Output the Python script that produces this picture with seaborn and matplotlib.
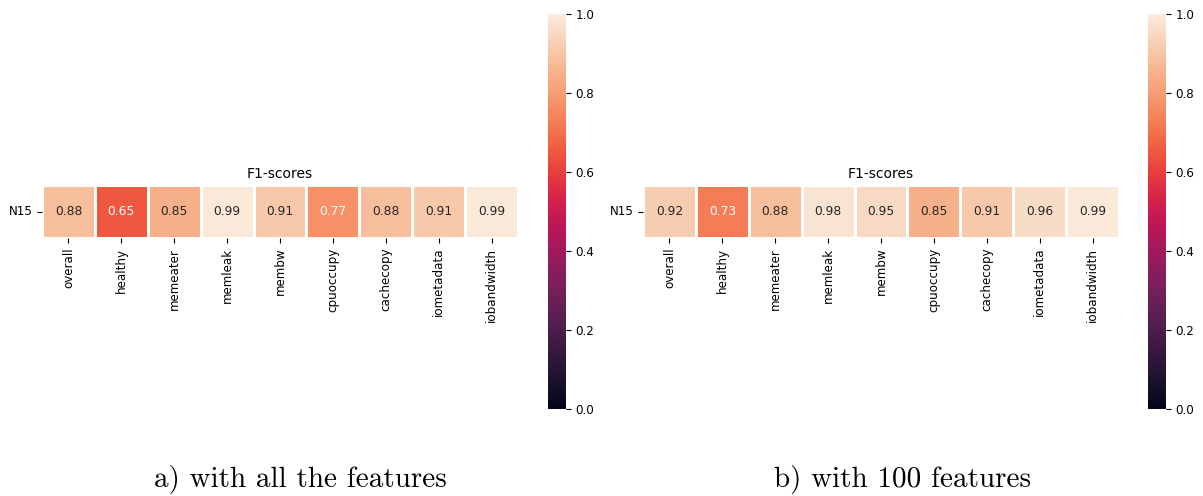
import numpy as np
import pandas as pd
import matplotlib
matplotlib.use("Agg")
import matplotlib.pyplot as plt
import seaborn as sns

# Fault classes and F1-scores for node N15
classes = ["overall", "healthy", "memeater", "memleak", "membw",
           "cpuoccupy", "cachecopy", "iometadata", "iobandwidth"]
row_labels = ["N15"]
scores_all = [0.88, 0.65, 0.85, 0.99, 0.91, 0.77, 0.88, 0.91, 0.99]
scores_100 = [0.92, 0.73, 0.88, 0.98, 0.95, 0.85, 0.91, 0.96, 0.99]
captions = ["a) with all the features", "b) with 100 features"]

W, H = 1203, 496
fig = plt.figure(figsize=(W / 100, H / 100), dpi=100)


def frac(x0, y0, x1, y1):
    return [x0 / W, 1 - y1 / H, (x1 - x0) / W, (y1 - y0) / H]


panels = [
    (scores_all, frac(42, 185, 518, 238), frac(548, 14, 566, 409), 300),
    (scores_100, frac(643, 185, 1119, 238), frac(1148, 14, 1166, 409), 903),
]

for (scores, hm_rect, cb_rect, cx), caption in zip(panels, captions):
    ax = fig.add_axes(hm_rect)
    cax = fig.add_axes(cb_rect)
    df = pd.DataFrame([scores], index=row_labels, columns=classes)
    sns.heatmap(df, ax=ax, cbar_ax=cax, vmin=0, vmax=1, annot=True, fmt=".2f",
                linewidths=1, linecolor="white", annot_kws={"fontsize": 8.8})
    ax.set_title("F1-scores", fontsize=10, pad=5)
    ax.tick_params(axis="both", labelsize=8.6)
    ax.set_xticklabels(classes, rotation=90)
    ax.set_yticklabels(row_labels, rotation=0)
    cax.tick_params(labelsize=8.6)
    fig.text(cx / W, 1 - 480 / H, caption, family="cmr10", fontsize=21,
             ha="center", va="center")

fig.savefig("out.png", dpi=100)
